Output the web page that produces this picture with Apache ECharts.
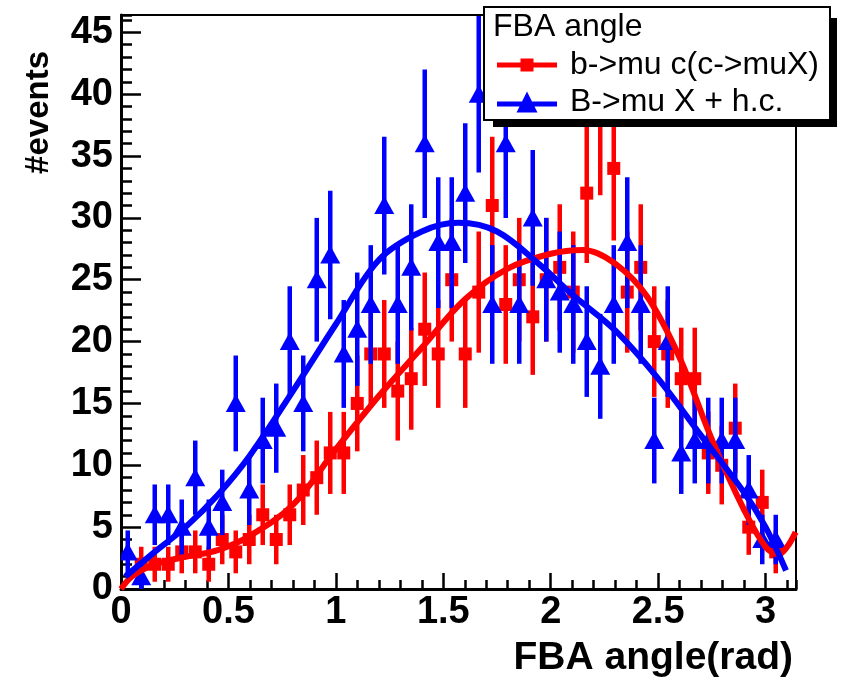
<!DOCTYPE html>
<html>
<head>
<meta charset="utf-8">
<script src="https://cdn.jsdelivr.net/npm/echarts@6/dist/echarts.min.js"></script>
<style>html,body{margin:0;padding:0;background:#fff;}#c{width:841px;height:679px;}</style>
</head>
<body>
<div id="c"></div>
<script>
// Histogram bin centres (50 bins over 0..pi)
const binCenters = [0.0314,0.0942,0.1571,0.2199,0.2827,0.3456,0.4084,0.4712,0.5341,0.5969,
  0.6597,0.7226,0.7854,0.8482,0.9111,0.9739,1.0367,1.0996,1.1624,1.2252,
  1.2881,1.3509,1.4137,1.4765,1.5394,1.6022,1.6650,1.7279,1.7907,1.8535,
  1.9164,1.9792,2.0420,2.1049,2.1677,2.2305,2.2934,2.3562,2.4190,2.4819,
  2.5447,2.6075,2.6704,2.7332,2.7960,2.8588,2.9217,2.9845,3.0473,3.1102];
// b->mu c(c->muX) counts (red squares)
const redCounts = [null,2,2,2,3,3,2,4,3,4,6,4,6,8,9,11,11,15,19,19,
  16,17,21,19,25,19,24,31,23,25,22,25,26,24,32,38,34,24,26,20,
  19,17,17,11,10,13,5,7,3,null];
// B->mu X + h.c. counts (blue triangles)
const blueCounts = [3,1,6,6,5,9,5,7,15,8,12,13,20,15,25,27,19,21,23,31,
  23,26,36,28,28,32,40,23,36,23,30,25,24,23,20,18,23,28,23,12,
  20,11,12,12,12,12,8,4,4,null];
// Fit curves
const redFitX = [0,0.05,0.15,0.3,0.45,0.6,0.8,1.0,1.2,1.4,1.6,1.8,2.0,2.15,2.3,2.45,2.6,2.75,2.9,3.0,3.06,3.1,3.14];
const redFitY = [0,1.0,1.95,2.6,3.15,4.3,6.8,11.3,15.6,19.5,23.4,25.9,27.1,27.4,26.3,23.6,18.7,12.1,6.4,3.4,2.8,3.4,4.6];
const blueFitX = [0.02,0.15,0.3,0.45,0.6,0.8,1.0,1.2,1.4,1.57,1.75,1.95,2.1,2.3,2.5,2.7,2.9,3.0,3.095];
const blueFitY = [1.0,2.9,5.0,7.6,10.8,16.0,21.4,26.6,28.9,29.6,28.9,26.2,23.8,20.9,17.0,12.4,7.8,5.0,1.5];
// Axis ticks
const xMajor = 0.5, xMinor = 0.1, xMax = 3.1416;
const yMajor = 5, yMinor = 1, yMax = 46.4;
const seriesNames = ['b->mu c(c->muX)', 'B->mu X + h.c.'];
const legendTitle = 'FBA angle';
const xTitle = 'FBA angle(rad)';
const yTitle = '#events';

const RED = '#ff0000', BLUE = '#0000ff';
const FONT = '"Liberation Sans", Arial, Helvetica, sans-serif';

function pts(xs, ys) { return xs.map((x, i) => [x, ys[i]]); }
function hist(vals) { return binCenters.map((x, i) => [x, vals[i]]).filter(d => d[1] != null); }

function errItem(color, kind) {
  return function (params, api) {
    const x = api.value(0), y = api.value(1);
    const e = Math.sqrt(y);
    const p = api.coord([x, y]);
    const lo = api.coord([x, y - e]);
    const hi = api.coord([x, y + e]);
    const children = [{
      type: 'line',
      shape: { x1: p[0], y1: lo[1], x2: p[0], y2: hi[1] },
      style: { stroke: color, lineWidth: 4.5 }
    }];
    if (kind === 'square') {
      children.push({ type: 'rect', shape: { x: p[0] - 6.5, y: p[1] - 6.5, width: 13, height: 13 }, style: { fill: color } });
    } else {
      children.push({ type: 'polygon', shape: { points: [[p[0], p[1] - 9.5], [p[0] + 10, p[1] + 8.5], [p[0] - 10, p[1] + 8.5]] }, style: { fill: color } });
    }
    return { type: 'group', children: children };
  };
}

const chart = echarts.init(document.getElementById('c'), null, { renderer: 'canvas' });
const isMultiple = (v, step) => Math.abs(v / step - Math.round(v / step)) < 1e-6;

const axisBase = { type: 'value', splitLine: { show: false } };

chart.setOption({
  animation: false,
  backgroundColor: '#fff',
  grid: { left: 121, top: 15, width: 675, height: 574, show: true, borderColor: '#000', borderWidth: 2, backgroundColor: 'transparent' },
  xAxis: [
    Object.assign({}, axisBase, {
      min: 0, max: xMax, interval: xMajor, position: 'bottom',
      axisLine: { show: true, lineStyle: { color: '#000', width: 3 } },
      axisTick: { show: true, inside: true, length: 16, lineStyle: { color: '#000', width: 2.5 } },
      axisLabel: { show: true, color: '#000', fontFamily: FONT, fontWeight: 'bold', fontSize: 38, margin: 5, showMaxLabel: false,
        formatter: v => isMultiple(v, xMajor) ? String(Math.round(v * 10) / 10) : '' },
      name: xTitle, nameLocation: 'end', nameGap: -3,
      nameTextStyle: { color: '#000', fontFamily: FONT, fontWeight: 'bold', fontSize: 39, align: 'right', verticalAlign: 'top', padding: [50, 0, 0, 0] }
    }),
    Object.assign({}, axisBase, {
      min: 0, max: xMax, interval: xMinor, position: 'bottom',
      axisLine: { show: false },
      axisTick: { show: true, inside: true, length: 9, lineStyle: { color: '#000', width: 2.5 } },
      axisLabel: { show: false }
    })
  ],
  yAxis: [
    Object.assign({}, axisBase, {
      min: 0, max: yMax, interval: yMajor, position: 'left',
      axisLine: { show: true, lineStyle: { color: '#000', width: 3 } },
      axisTick: { show: true, inside: true, length: 20, lineStyle: { color: '#000', width: 2.5 } },
      axisLabel: { show: true, color: '#000', fontFamily: FONT, fontWeight: 'bold', fontSize: 38, margin: 8, showMaxLabel: false,
        formatter: v => isMultiple(v, yMajor) ? String(Math.round(v)) : '' },
      name: yTitle, nameLocation: 'end', nameGap: -36, nameRotate: 90,
      nameTextStyle: { color: '#000', fontFamily: FONT, fontWeight: 'bold', fontSize: 33, align: 'right', verticalAlign: 'bottom', padding: [0, 0, 66, 0] }
    }),
    Object.assign({}, axisBase, {
      min: 0, max: yMax, interval: yMinor, position: 'left', offset: 0,
      axisLine: { show: false },
      axisTick: { show: true, inside: true, length: 11, lineStyle: { color: '#000', width: 2.5 } },
      axisLabel: { show: false }
    })
  ],
  legend: [
    {
      data: [{ name: seriesNames[0], icon: 'path://M0,4H60V9H0Z M23.5,0H36.5V13H23.5Z' }],
      left: 497, top: 49, padding: 0, itemWidth: 60, itemHeight: 13, z: 200, zlevel: 0,
      textStyle: { color: '#000', fontFamily: FONT, fontSize: 32, lineHeight: 32, padding: [0, 0, 0, 8] },
      selectedMode: false
    },
    {
      data: [{ name: seriesNames[1], icon: 'path://M30,0L40.5,21L19.5,21Z M0,10H60V15H0Z' }],
      left: 497, top: 86, padding: 0, itemWidth: 60, itemHeight: 21, z: 200, zlevel: 0,
      textStyle: { color: '#000', fontFamily: FONT, fontSize: 32, lineHeight: 32, padding: [0, 0, 0, 8] },
      selectedMode: false
    }
  ],
  graphic: [
    { type: 'rect', z: 100, shape: { x: 493, y: 18, width: 344, height: 109 }, style: { fill: '#000' } },
    { type: 'rect', z: 101, shape: { x: 484, y: 7, width: 346, height: 113 }, style: { fill: '#fff', stroke: '#000', lineWidth: 2 } },
    { type: 'text', z: 102, x: 493, y: 27, style: { text: legendTitle, fill: '#000', font: '32px ' + FONT, verticalAlign: 'middle', align: 'left' } }
  ],
  series: [
    {
      name: seriesNames[0], type: 'custom', xAxisIndex: 0, yAxisIndex: 0,
      itemStyle: { color: RED }, renderItem: errItem(RED, 'square'),
      encode: { x: 0, y: 1 }, data: hist(redCounts), clip: true, z: 2
    },
    {
      type: 'line', xAxisIndex: 0, yAxisIndex: 0, data: pts(redFitX, redFitY), smooth: 0.35,
      showSymbol: false, lineStyle: { color: RED, width: 6 }, itemStyle: { color: RED }, clip: true, z: 2, silent: true
    },
    {
      name: seriesNames[1], type: 'custom', xAxisIndex: 0, yAxisIndex: 0,
      itemStyle: { color: BLUE }, renderItem: errItem(BLUE, 'triangle'),
      encode: { x: 0, y: 1 }, data: hist(blueCounts), clip: true, z: 2
    },
    {
      type: 'line', xAxisIndex: 0, yAxisIndex: 0, data: pts(blueFitX, blueFitY), smooth: 0.35,
      showSymbol: false, lineStyle: { color: BLUE, width: 6 }, itemStyle: { color: BLUE }, clip: true, z: 2, silent: true
    }
  ]
});
</script>
</body>
</html>
